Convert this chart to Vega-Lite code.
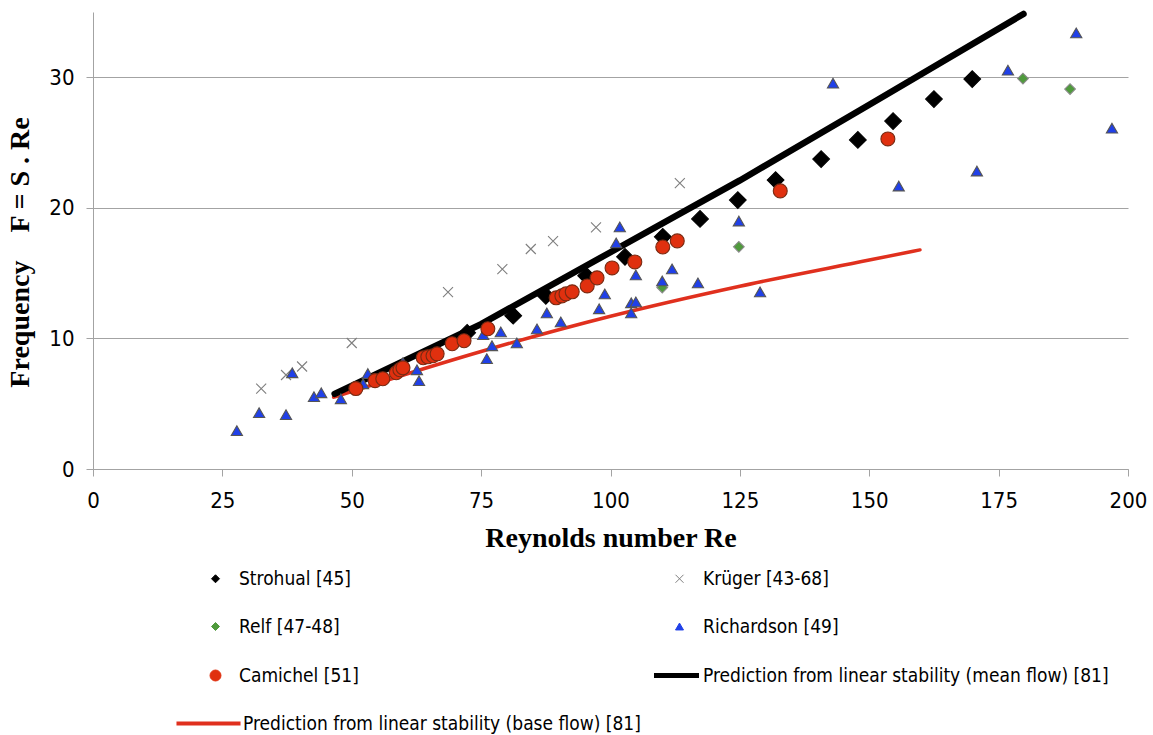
{
  "$schema": "https://vega.github.io/schema/vega-lite/v6.json",
  "autosize": {"type": "none"},
  "padding": {"left": 93, "top": 12, "right": 25, "bottom": 266},
  "width": 1035,
  "height": 457,
  "background": "white",
  "config": {
    "view": {"stroke": null},
    "axis": {
      "domainColor": "#a3a3a3",
      "tickColor": "#a3a3a3",
      "gridColor": "#a3a3a3",
      "tickSize": 7,
      "labelColor": "#000000",
      "labelFont": "Liberation Sans Narrow, DejaVu Sans Condensed, Arial Narrow, sans-serif",
      "labelFontSize": 22,
      "labelFlush": false,
      "titleFont": "Liberation Serif, Times New Roman, serif",
      "titleFontWeight": "bold",
      "titleFontSize": 28,
      "titleColor": "#000000"
    }
  },
  "datasets": {
    "obs": [
      {"series": "Strohual [45]", "Re": 72.3, "F": 10.43},
      {"series": "Strohual [45]", "Re": 81.2, "F": 11.74},
      {"series": "Strohual [45]", "Re": 87.5, "F": 13.27},
      {"series": "Strohual [45]", "Re": 95.3, "F": 14.8},
      {"series": "Strohual [45]", "Re": 102.8, "F": 16.25},
      {"series": "Strohual [45]", "Re": 110.1, "F": 17.78},
      {"series": "Strohual [45]", "Re": 117.3, "F": 19.15},
      {"series": "Strohual [45]", "Re": 124.6, "F": 20.6},
      {"series": "Strohual [45]", "Re": 131.9, "F": 22.13},
      {"series": "Strohual [45]", "Re": 140.7, "F": 23.74},
      {"series": "Strohual [45]", "Re": 147.8, "F": 25.2},
      {"series": "Strohual [45]", "Re": 154.6, "F": 26.65},
      {"series": "Strohual [45]", "Re": 162.5, "F": 28.33},
      {"series": "Strohual [45]", "Re": 169.9, "F": 29.86},
      {"series": "Krüger [43-68]", "Re": 32.5, "F": 6.15},
      {"series": "Krüger [43-68]", "Re": 37.3, "F": 7.2},
      {"series": "Krüger [43-68]", "Re": 40.4, "F": 7.85},
      {"series": "Krüger [43-68]", "Re": 50.0, "F": 9.65},
      {"series": "Krüger [43-68]", "Re": 68.6, "F": 13.55},
      {"series": "Krüger [43-68]", "Re": 79.1, "F": 15.3},
      {"series": "Krüger [43-68]", "Re": 84.6, "F": 16.85},
      {"series": "Krüger [43-68]", "Re": 88.9, "F": 17.45},
      {"series": "Krüger [43-68]", "Re": 97.2, "F": 18.5},
      {"series": "Krüger [43-68]", "Re": 113.4, "F": 21.9},
      {"series": "Relf [47-48]", "Re": 110.0, "F": 13.9},
      {"series": "Relf [47-48]", "Re": 124.8, "F": 17.02},
      {"series": "Relf [47-48]", "Re": 179.7, "F": 29.9},
      {"series": "Relf [47-48]", "Re": 188.8, "F": 29.1},
      {"series": "Richardson [49]", "Re": 27.8, "F": 2.94},
      {"series": "Richardson [49]", "Re": 32.1, "F": 4.31},
      {"series": "Richardson [49]", "Re": 37.3, "F": 4.16},
      {"series": "Richardson [49]", "Re": 38.5, "F": 7.37},
      {"series": "Richardson [49]", "Re": 42.7, "F": 5.54},
      {"series": "Richardson [49]", "Re": 44.1, "F": 5.84},
      {"series": "Richardson [49]", "Re": 47.9, "F": 5.38},
      {"series": "Richardson [49]", "Re": 53.1, "F": 7.31},
      {"series": "Richardson [49]", "Re": 52.2, "F": 6.53},
      {"series": "Richardson [49]", "Re": 59.9, "F": 8.15},
      {"series": "Richardson [49]", "Re": 62.6, "F": 7.6},
      {"series": "Richardson [49]", "Re": 63.0, "F": 6.76},
      {"series": "Richardson [49]", "Re": 75.4, "F": 10.29},
      {"series": "Richardson [49]", "Re": 76.1, "F": 8.45},
      {"series": "Richardson [49]", "Re": 77.1, "F": 9.44},
      {"series": "Richardson [49]", "Re": 78.8, "F": 10.5},
      {"series": "Richardson [49]", "Re": 81.9, "F": 9.66},
      {"series": "Richardson [49]", "Re": 85.8, "F": 10.73},
      {"series": "Richardson [49]", "Re": 87.7, "F": 11.96},
      {"series": "Richardson [49]", "Re": 90.4, "F": 11.27},
      {"series": "Richardson [49]", "Re": 97.8, "F": 12.27},
      {"series": "Richardson [49]", "Re": 98.9, "F": 13.41},
      {"series": "Richardson [49]", "Re": 101.1, "F": 17.31},
      {"series": "Richardson [49]", "Re": 101.8, "F": 18.54},
      {"series": "Richardson [49]", "Re": 104.0, "F": 12.73},
      {"series": "Richardson [49]", "Re": 104.0, "F": 11.96},
      {"series": "Richardson [49]", "Re": 104.9, "F": 12.8},
      {"series": "Richardson [49]", "Re": 104.9, "F": 14.87},
      {"series": "Richardson [49]", "Re": 110.0, "F": 14.4},
      {"series": "Richardson [49]", "Re": 111.9, "F": 15.32},
      {"series": "Richardson [49]", "Re": 116.9, "F": 14.25},
      {"series": "Richardson [49]", "Re": 124.8, "F": 18.99},
      {"series": "Richardson [49]", "Re": 128.9, "F": 13.56},
      {"series": "Richardson [49]", "Re": 143.0, "F": 29.55},
      {"series": "Richardson [49]", "Re": 155.7, "F": 21.67},
      {"series": "Richardson [49]", "Re": 170.8, "F": 22.82},
      {"series": "Richardson [49]", "Re": 176.8, "F": 30.55},
      {"series": "Richardson [49]", "Re": 190.0, "F": 33.4},
      {"series": "Richardson [49]", "Re": 196.9, "F": 26.1},
      {"series": "Camichel [51]", "Re": 50.8, "F": 6.16},
      {"series": "Camichel [51]", "Re": 54.5, "F": 6.77},
      {"series": "Camichel [51]", "Re": 56.0, "F": 6.91},
      {"series": "Camichel [51]", "Re": 58.6, "F": 7.37},
      {"series": "Camichel [51]", "Re": 59.3, "F": 7.6},
      {"series": "Camichel [51]", "Re": 59.9, "F": 7.75},
      {"series": "Camichel [51]", "Re": 63.8, "F": 8.52},
      {"series": "Camichel [51]", "Re": 64.7, "F": 8.59},
      {"series": "Camichel [51]", "Re": 65.7, "F": 8.67},
      {"series": "Camichel [51]", "Re": 66.5, "F": 8.82},
      {"series": "Camichel [51]", "Re": 69.4, "F": 9.59},
      {"series": "Camichel [51]", "Re": 71.7, "F": 9.82},
      {"series": "Camichel [51]", "Re": 76.3, "F": 10.74},
      {"series": "Camichel [51]", "Re": 89.5, "F": 13.11},
      {"series": "Camichel [51]", "Re": 90.6, "F": 13.26},
      {"series": "Camichel [51]", "Re": 91.4, "F": 13.41},
      {"series": "Camichel [51]", "Re": 92.6, "F": 13.57},
      {"series": "Camichel [51]", "Re": 95.5, "F": 14.02},
      {"series": "Camichel [51]", "Re": 97.4, "F": 14.64},
      {"series": "Camichel [51]", "Re": 100.3, "F": 15.4},
      {"series": "Camichel [51]", "Re": 104.7, "F": 15.86},
      {"series": "Camichel [51]", "Re": 110.1, "F": 17.0},
      {"series": "Camichel [51]", "Re": 112.9, "F": 17.47},
      {"series": "Camichel [51]", "Re": 132.8, "F": 21.3},
      {"series": "Camichel [51]", "Re": 153.6, "F": 25.28}
    ],
    "mean": [
      {"series": "Prediction from linear stability (mean flow) [81]", "Re": 46.7, "F": 5.75},
      {"series": "Prediction from linear stability (mean flow) [81]", "Re": 75, "F": 11.1},
      {"series": "Prediction from linear stability (mean flow) [81]", "Re": 100, "F": 16.6},
      {"series": "Prediction from linear stability (mean flow) [81]", "Re": 125, "F": 22.1},
      {"series": "Prediction from linear stability (mean flow) [81]", "Re": 150, "F": 27.9},
      {"series": "Prediction from linear stability (mean flow) [81]", "Re": 179.8, "F": 34.85}
    ],
    "base": [
      {"series": "Prediction from linear stability (base flow) [81]", "Re": 46.5, "F": 5.5},
      {"series": "Prediction from linear stability (base flow) [81]", "Re": 60, "F": 7.2},
      {"series": "Prediction from linear stability (base flow) [81]", "Re": 75, "F": 9.0},
      {"series": "Prediction from linear stability (base flow) [81]", "Re": 100, "F": 11.7},
      {"series": "Prediction from linear stability (base flow) [81]", "Re": 125, "F": 14.0},
      {"series": "Prediction from linear stability (base flow) [81]", "Re": 150, "F": 16.0},
      {"series": "Prediction from linear stability (base flow) [81]", "Re": 159.8, "F": 16.78}
    ]
  },
  "encoding": {
    "x": {
      "field": "Re", "type": "quantitative",
      "scale": {"domain": [0, 200], "nice": false, "zero": false},
      "axis": {"values": [0, 25, 50, 75, 100, 125, 150, 175, 200], "grid": false, "labelPadding": 14, "title": "Reynolds number Re", "titlePadding": 13}
    },
    "y": {
      "field": "F", "type": "quantitative",
      "scale": {"domain": [0, 35], "nice": false},
      "axis": {"values": [0, 10, 20, 30], "grid": true, "labelPadding": 12, "title": "Frequency\u00a0\u00a0\u00a0\u00a0F = S . Re", "titlePadding": 14, "titleY": 240}
    },
    "color": {
      "field": "series", "type": "nominal",
      "scale": {
        "domain": ["Strohual [45]", "Krüger [43-68]", "Relf [47-48]", "Richardson [49]", "Camichel [51]", "Prediction from linear stability (mean flow) [81]", "Prediction from linear stability (base flow) [81]"],
        "range": ["#000000", "#7f7f7f", "#4f9a3c", "#2040e8", "#e0300f", "#000000", "#e0301e"]
      },
      "legend": {
        "title": null,
        "orient": "none",
        "direction": "horizontal",
        "legendX": 113,
        "legendY": 557,
        "columns": 2,
        "columnPadding": 3,
        "rowPadding": 28,
        "labelFont": "Liberation Sans Narrow, DejaVu Sans Condensed, Arial Narrow, sans-serif",
        "labelFontSize": 19,
        "labelColor": "#000000",
        "labelOffset": 14,
        "labelLimit": 0,
        "symbolSize": 100,
        "encode": {
          "labels": {
            "update": {
              "x": {"signal": "datum.offset + 14 + (datum.value == 'Prediction from linear stability (base flow) [81]' ? 4 : 0)"}
            }
          },
          "symbols": {
            "update": {
              "size": {"signal": "datum.value == 'Prediction from linear stability (mean flow) [81]' ? 2025 : datum.value == 'Prediction from linear stability (base flow) [81]' ? 4100 : datum.value == 'Camichel [51]' ? 120 : 64"},
              "x": {"signal": "datum.offset * 0.5 - (datum.value == 'Prediction from linear stability (base flow) [81]' ? 7 : datum.value == 'Prediction from linear stability (mean flow) [81]' ? 3 : 0)"},
              "strokeWidth": {"signal": "datum.value == 'Prediction from linear stability (mean flow) [81]' ? 5 : datum.value == 'Prediction from linear stability (base flow) [81]' ? 4 : 1"},
              "fill": {"signal": "datum.value == 'Strohual [45]' ? '#000000' : datum.value == 'Relf [47-48]' ? '#4f9a3c' : datum.value == 'Richardson [49]' ? '#2040e8' : datum.value == 'Camichel [51]' ? '#e0300f' : 'transparent'"},
              "stroke": {"signal": "datum.value == 'Strohual [45]' ? '#000000' : datum.value == 'Krüger [43-68]' ? '#7f7f7f' : datum.value == 'Relf [47-48]' ? '#8a8a8a' : datum.value == 'Richardson [49]' ? '#555555' : datum.value == 'Camichel [51]' ? '#7a2a12' : datum.value == 'Prediction from linear stability (mean flow) [81]' ? '#000000' : '#d42a22'"},
              "opacity": {"value": 1}
            }
          }
        }
      }
    }
  },
  "layer": [
    {
      "data": {"name": "base"},
      "mark": {"type": "line", "strokeWidth": 3.5, "strokeCap": "round", "interpolate": "monotone"}
    },
    {
      "data": {"name": "mean"},
      "mark": {"type": "line", "strokeWidth": 6.5, "strokeCap": "round"}
    },
    {
      "data": {"name": "obs"},
      "mark": {"type": "point", "filled": true, "strokeWidth": 1.1, "opacity": 1},
      "encoding": {
        "shape": {
          "field": "series", "type": "nominal",
          "scale": {
            "domain": ["Strohual [45]", "Krüger [43-68]", "Relf [47-48]", "Richardson [49]", "Camichel [51]", "Prediction from linear stability (mean flow) [81]", "Prediction from linear stability (base flow) [81]"],
            "range": ["diamond", "M-1,-1L1,1M-1,1L1,-1", "diamond", "triangle-up", "circle", "stroke", "stroke"]
          }
        },
        "stroke": {
          "field": "series", "type": "nominal",
          "scale": {
            "domain": ["Strohual [45]", "Krüger [43-68]", "Relf [47-48]", "Richardson [49]", "Camichel [51]"],
            "range": ["#000000", "#7f7f7f", "#8a8a8a", "#555555", "#7a2a12"]
          },
          "legend": null
        },
        "size": {
          "field": "series", "type": "nominal",
          "scale": {
            "type": "ordinal",
            "domain": ["Strohual [45]", "Krüger [43-68]", "Relf [47-48]", "Richardson [49]", "Camichel [51]"],
            "range": [280, 100, 115, 125, 195]
          },
          "legend": null
        }
      }
    }
  ]
}
